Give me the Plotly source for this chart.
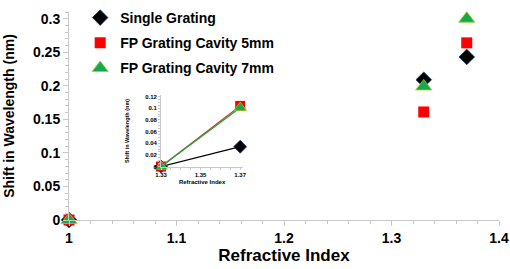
import plotly.graph_objects as go

# Main chart data
ri = [1.0, 1.33, 1.37]
single = [0.0, 0.209, 0.243]
fp5 = [0.0, 0.161, 0.264]
fp7 = [0.0, 0.199, 0.300]
names = ["Single Grating", "FP Grating Cavity 5mm", "FP Grating Cavity 7mm"]

# Inset data
ri_in = [1.33, 1.37]
single_in = [0.0, 0.034]
fp5_in = [0.0, 0.104]
fp7_in = [0.0, 0.101]

FONT = "Arial, Liberation Sans, sans-serif"
fig = go.Figure()

styles = [
    dict(symbol="diamond", color="black", size=12, lc="#1f3a7a", lw=0.8),
    dict(symbol="square", color="#ff0000", size=11, lc="#ff0000", lw=0),
    dict(symbol="triangle-up", color="#16a94a", size=14, lc="#9acd32", lw=0.8),
]
for i, (ys, nm, st) in enumerate(zip([single, fp5, fp7], names, styles)):
    fig.add_trace(go.Scatter(
        x=ri, y=ys, name=nm, mode="markers", cliponaxis=False, legendgroup=f"g{i}",
        marker=dict(symbol=st["symbol"], color=st["color"], size=st["size"],
                    line=dict(color=st["lc"], width=st["lw"])),
        xaxis="x", yaxis="y"))

line_cols = ["black", "#e8302a", "#16a94a"]
in_sizes = [10, 10, 11]
for ys, st, lc, sz in zip([single_in, fp5_in, fp7_in], styles, line_cols, in_sizes):
    fig.add_trace(go.Scatter(
        x=ri_in, y=ys, mode="lines+markers", showlegend=False, cliponaxis=False,
        line=dict(color=lc, width=1.3),
        marker=dict(symbol=st["symbol"], color=st["color"], size=sz,
                    line=dict(color=st["lc"], width=st["lw"])),
        xaxis="x2", yaxis="y2"))

axis_common = dict(showgrid=False, zeroline=False, showline=True, linecolor="#c8c8c8",
                   linewidth=1, ticks="outside", tickcolor="#c8c8c8",
                   ticklabeloverflow="allow")

fig.update_layout(
    width=510, height=269,
    margin=dict(l=69, r=11, t=2, b=49),
    paper_bgcolor="white", plot_bgcolor="white",
    font=dict(family=FONT, color="black"),
    xaxis=dict(**axis_common, automargin="bottom", range=[1.0, 1.4], dtick=0.1, tickformat="~g",
               ticklen=5, minor=dict(dtick=0.02, ticks="outside", ticklen=3, tickcolor="#c8c8c8"),
               tickfont=dict(size=14, family=FONT, weight="bold"),
               title=dict(text="<b>Refractive Index</b>", font=dict(size=17, family=FONT), standoff=3)),
    yaxis=dict(**axis_common, automargin=False, range=[0, 0.31],
               tickvals=[0, 0.05, 0.1, 0.15, 0.2, 0.25, 0.3],
               ticktext=["0", "0.05", "0.1", "0.15", "0.2", "0.25", "0.3"],
               ticklen=5, minor=dict(dtick=0.01, ticks="outside", ticklen=3, tickcolor="#c8c8c8"),
               tickfont=dict(size=14, family=FONT, weight="bold"),
               title=dict(text="<b>Shift in Wavelength (nm)</b>", font=dict(size=14, family=FONT))),
    xaxis2=dict(**axis_common, automargin=True, domain=[0.214, 0.405], anchor="y2",
                range=[1.33, 1.3715],
                tickvals=[1.33, 1.35, 1.37], ticktext=["1.33", "1.35", "1.37"], ticklen=2,
                minor=dict(dtick=0.005, ticks="outside", ticklen=2, tickcolor="#c8c8c8"),
                tickfont=dict(size=6, family=FONT, weight="bold"),
                title=dict(text="<b>Refractive Index</b>", font=dict(size=6, family=FONT), standoff=3)),
    yaxis2=dict(**axis_common, automargin=False, domain=[0.257, 0.599], anchor="x2",
                range=[0, 0.122],
                tickvals=[0, 0.02, 0.04, 0.06, 0.08, 0.1, 0.12],
                ticktext=["0", "0.02", "0.04", "0.06", "0.08", "0.1", "0.12"], ticklen=2,
                minor=dict(dtick=0.005, ticks="outside", ticklen=2, tickcolor="#c8c8c8"),
                tickfont=dict(size=6, family=FONT, weight="bold"),
                title=dict(text="<b>Shift in Wavelength (nm)</b>", font=dict(size=5.5, family=FONT))),
    legend=dict(x=0.026, y=1.048, xanchor="left", yanchor="top", bgcolor="rgba(0,0,0,0)",
                font=dict(size=14, family=FONT, weight="bold"), itemwidth=30, tracegroupgap=4),
)

fig.write_html(
    "out.html",
    config={"displayModeBar": False},
    post_script="document.body.style.margin='0';document.body.style.overflow='hidden';",
)
